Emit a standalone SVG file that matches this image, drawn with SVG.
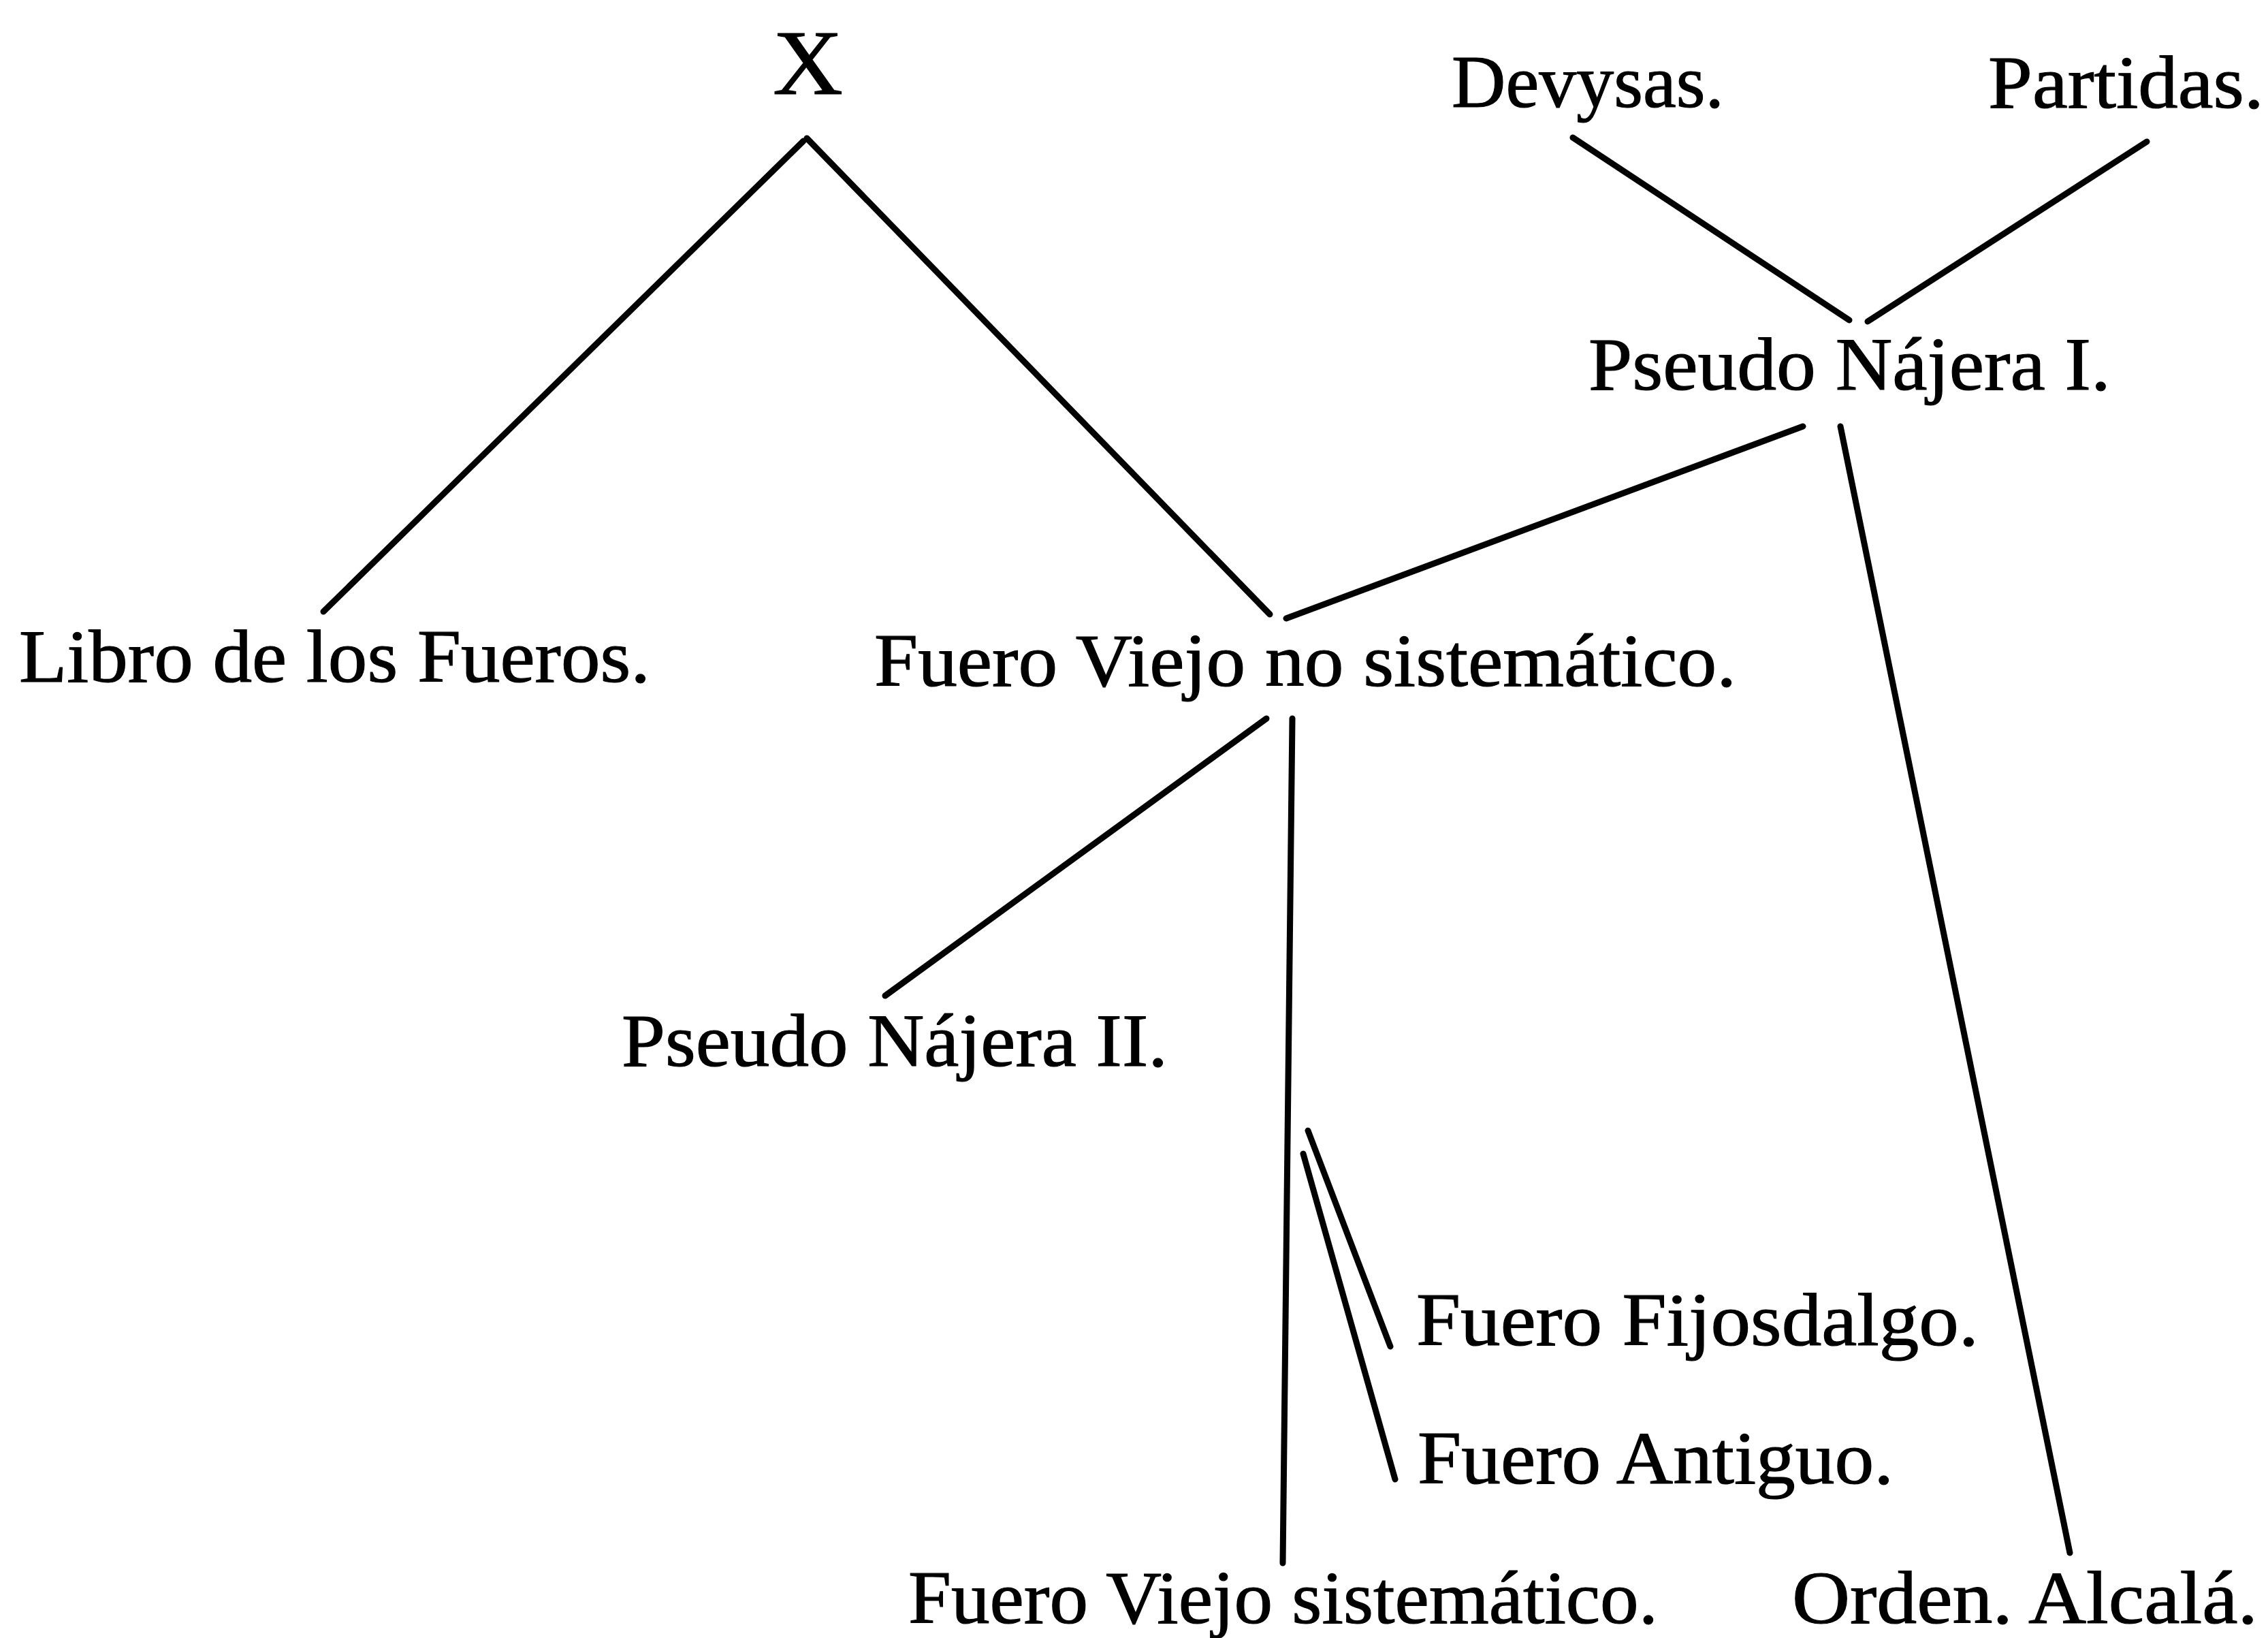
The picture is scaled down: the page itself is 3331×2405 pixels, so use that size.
<svg xmlns="http://www.w3.org/2000/svg" width="3331" height="2405" viewBox="0 0 3331 2405">
  <style>
    .lbl { font-family: "Liberation Serif", "DejaVu Serif", serif; font-size: 110px; fill: #000; stroke: #000; stroke-width: 1.2; }
    .big { font-size: 136px; }
    .edge { stroke: #000; stroke-width: 9; stroke-linecap: round; fill: none; }
  </style>
  <rect width="3331" height="2405" fill="#fff"/>

  <!-- lines of descent -->
  <g id="connectors">
    <line class="edge" x1="1180" y1="207" x2="475" y2="898"/>
    <line class="edge" x1="1185" y1="203" x2="1865" y2="902"/>
    <line class="edge" x1="2310" y1="202" x2="2716" y2="470"/>
    <line class="edge" x1="3153" y1="208" x2="2743" y2="472"/>
    <line class="edge" x1="2648" y1="626" x2="1889" y2="908"/>
    <line class="edge" x1="2703" y1="626" x2="3040" y2="2280"/>
    <line class="edge" x1="1860" y1="1055" x2="1300" y2="1462"/>
    <line class="edge" x1="1898" y1="1055" x2="1884" y2="2295"/>
    <line class="edge" x1="1921" y1="1660" x2="2042" y2="1977"/>
    <line class="edge" x1="1914" y1="1694" x2="2049" y2="2172"/>
  </g>

  <g id="node-x"><text class="lbl big" x="1135" y="138" textLength="103" lengthAdjust="spacingAndGlyphs">X</text></g>
  <g id="node-devysas"><text class="lbl" x="2132" y="157" textLength="400" lengthAdjust="spacingAndGlyphs">Devysas.</text></g>
  <g id="node-partidas"><text class="lbl" x="2920" y="158" textLength="405" lengthAdjust="spacingAndGlyphs">Partidas.</text></g>
  <g id="node-pseudo-najera-1"><text class="lbl" x="2333" y="572" textLength="767" lengthAdjust="spacingAndGlyphs">Pseudo Nájera I.</text></g>
  <g id="node-libro-fueros"><text class="lbl" x="28" y="1001" textLength="927" lengthAdjust="spacingAndGlyphs">Libro de los Fueros.</text></g>
  <g id="node-fuero-viejo-no-sist"><text class="lbl" x="1284" y="1007" textLength="1266" lengthAdjust="spacingAndGlyphs">Fuero Viejo no sistemático.</text></g>
  <g id="node-pseudo-najera-2"><text class="lbl" x="913" y="1565" textLength="802" lengthAdjust="spacingAndGlyphs">Pseudo Nájera II.</text></g>
  <g id="node-fuero-fijosdalgo"><text class="lbl" x="2080" y="1975" textLength="826" lengthAdjust="spacingAndGlyphs">Fuero Fijosdalgo.</text></g>
  <g id="node-fuero-antiguo"><text class="lbl" x="2082" y="2178" textLength="699" lengthAdjust="spacingAndGlyphs">Fuero Antiguo.</text></g>
  <g id="node-fuero-viejo-sist"><text class="lbl" x="1334" y="2383" textLength="1101" lengthAdjust="spacingAndGlyphs">Fuero Viejo sistemático.</text></g>
  <g id="node-orden-alcala"><text class="lbl" x="2632" y="2383" textLength="684" lengthAdjust="spacingAndGlyphs">Orden. Alcalá.</text></g>
</svg>
